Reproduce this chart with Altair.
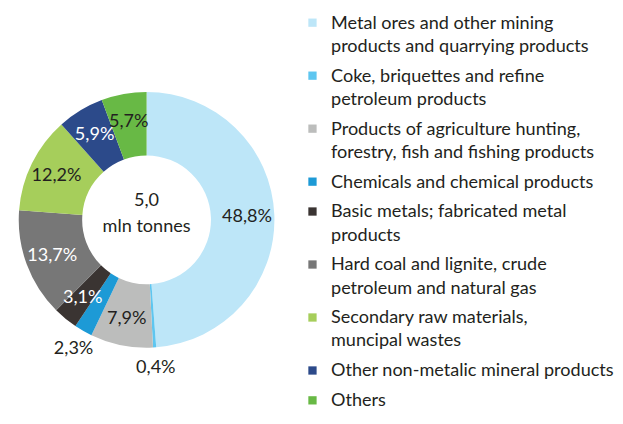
import altair as alt
import pandas as pd

# ---------------- data ----------------
categories = [
    "Metal ores and other mining products and quarrying products",
    "Coke, briquettes and refine petroleum products",
    "Products of agriculture hunting, forestry, fish and fishing products",
    "Chemicals and chemical products",
    "Basic metals; fabricated metal products",
    "Hard coal and lignite, crude petroleum and natural gas",
    "Secondary raw materials, muncipal wastes",
    "Other non-metalic mineral products",
    "Others",
]
shares = [48.8, 0.4, 7.9, 2.3, 3.1, 13.7, 12.2, 5.9, 5.7]
colors = ["#bde6f8", "#5ec6f0", "#bcbdbc", "#1d9ad6", "#3a3432",
          "#777777", "#a6ce5b", "#2c4a8a", "#68b945"]
legend_text = [
    ["Metal ores and other mining", "products and quarrying products"],
    ["Coke, briquettes and refine", "petroleum products"],
    ["Products of agriculture hunting,", "forestry, fish and fishing products"],
    ["Chemicals and chemical products"],
    ["Basic metals; fabricated metal", "products"],
    ["Hard coal and lignite, crude", "petroleum and natural gas"],
    ["Secondary raw materials,", "muncipal wastes"],
    ["Other non-metalic mineral products"],
    ["Others"],
]
white_label_categories = [
    "Basic metals; fabricated metal products",
    "Hard coal and lignite, crude petroleum and natural gas",
    "Other non-metalic mineral products",
]
total_label = "5,0"
unit_label = "mln tonnes"

# ---------------- style ----------------
FONT = "Lato"
FS = 18.5
TEXT_COLOR = "#231f20"
ENTRY_GAP = 0.29

df = pd.DataFrame({"category": categories, "share": shares,
                   "order": list(range(len(categories)))})
color_scale = alt.Scale(domain=categories, range=colors)

pct_expr = "replace(format(datum.share, '.1f'), '.', ',') + '%'"

base = alt.Chart(df).encode(
    theta=alt.Theta("share:Q", stack=True),
    order=alt.Order("order:Q"),
)

arcs = base.mark_arc(innerRadius=66, outerRadius=131, yOffset=8).encode(
    color=alt.Color("category:N", scale=color_scale, legend=None)
)

label_color = alt.condition(
    alt.FieldOneOfPredicate(field="category", oneOf=white_label_categories),
    alt.value("white"), alt.value(TEXT_COLOR))

inner_labels = base.transform_calculate(
    lbl=f"datum.share >= 3 ? {pct_expr} : ''"
).mark_text(radius=103, font=FONT, fontSize=FS, yOffset=8).encode(
    text="lbl:N", color=label_color
)

outer_labels = base.transform_calculate(
    lbl=f"datum.share < 3 ? {pct_expr} : ''"
).mark_text(radius=151, font=FONT, fontSize=FS, yOffset=8, color=TEXT_COLOR).encode(
    text="lbl:N"
)

center_text = alt.Chart(pd.DataFrame({"total": [total_label], "unit": [unit_label]})).transform_calculate(
    t="[datum.total, datum.unit]"
).mark_text(font=FONT, fontSize=FS, color=TEXT_COLOR, lineHeight=27,
            yOffset=8, dy=-20).encode(text="t:N")

donut = alt.layer(arcs, inner_labels, outer_labels, center_text).properties(
    width=278, height=408)

# ---------------- legend ----------------
rows = []
pos = 0.0
for cat, lines in zip(categories, legend_text):
    for j, line in enumerate(lines):
        rows.append({"category": cat, "line": line, "pos": pos, "first": j == 0})
        pos += 1
    pos += ENTRY_GAP
leg_df = pd.DataFrame(rows)
max_pos = leg_df["pos"].max()
yscale = alt.Scale(domain=[0, max_pos], range=[10, 397])

leg_base = alt.Chart(leg_df).encode(y=alt.Y("pos:Q", scale=yscale, axis=None))
squares = leg_base.transform_filter("datum.first").mark_square(size=72, opacity=1).encode(
    x=alt.value(19),
    color=alt.Color("category:N", scale=color_scale, legend=None),
)
leg_labels = leg_base.mark_text(align="left", baseline="middle", font=FONT,
                                fontSize=FS, color=TEXT_COLOR).encode(
    x=alt.value(38), text="line:N")
legend = alt.layer(squares, leg_labels).properties(width=290, height=408)

chart = alt.hconcat(donut, legend, spacing=0).properties(padding=0).configure_view(stroke=None)

chart.save("out.html", embed_options={"renderer": "svg", "actions": False})
